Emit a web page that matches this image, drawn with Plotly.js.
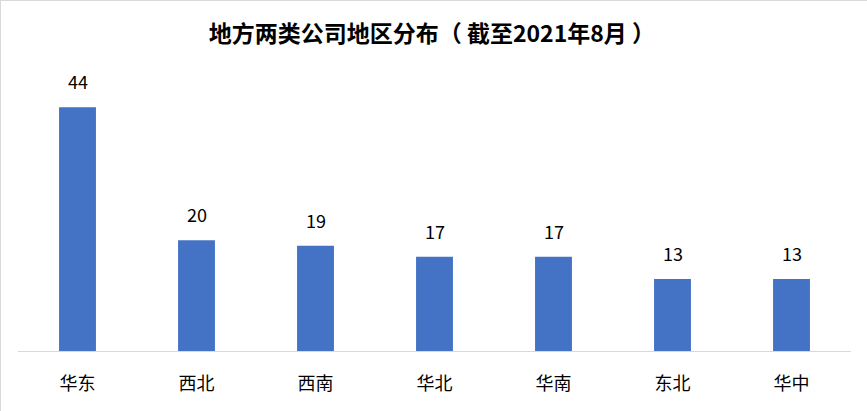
<!DOCTYPE html>
<html>
<head>
<meta charset="utf-8">
<script src="https://cdn.plot.ly/plotly-3.0.1.min.js"></script>
<style>
  html, body { margin: 0; padding: 0; background: #fff; }
  #chart { width: 867px; height: 411px; box-sizing: border-box; border: 1px solid #d9d9d9; }
</style>
</head>
<body>
<div id="chart"></div>
<script>
var regions = ['华东', '西北', '西南', '华北', '华南', '东北', '华中'];
var companyCounts = [44, 20, 19, 17, 17, 13, 13];

var cjkFont = '"Noto Sans CJK SC", "Microsoft YaHei", sans-serif';

var trace = {
  type: 'bar',
  x: regions,
  y: companyCounts,
  marker: { color: '#4472C4' },
  hoverinfo: 'x+y'
};

// value labels sit a bit higher than plotly's own outside text
var valueLabels = regions.map(function (r, i) {
  return {
    x: r,
    y: companyCounts[i],
    xref: 'x',
    yref: 'y',
    text: String(companyCounts[i]),
    showarrow: false,
    yanchor: 'bottom',
    yshift: 11,
    font: { family: cjkFont, size: 18, color: '#000' }
  };
});

var layout = {
  width: 867,
  height: 411,
  margin: { l: 17, r: 17, t: 73, b: 61, pad: 0 },
  paper_bgcolor: '#fff',
  plot_bgcolor: '#fff',
  bargap: 0.69,
  showlegend: false,
  font: { family: cjkFont, color: '#000' },
  annotations: valueLabels,
  title: {
    text: '<b>地方两类公司地区分布（ 截至2021年8月 ）</b>',
    font: { family: cjkFont, size: 23, color: '#000' },
    x: 0.497,
    xanchor: 'center',
    y: 0.92,
    yanchor: 'middle'
  },
  xaxis: {
    type: 'category',
    showgrid: false,
    showline: true,
    linecolor: '#d9d9d9',
    linewidth: 1,
    ticks: 'outside',
    ticklen: 16,
    tickcolor: 'rgba(0,0,0,0)',
    tickfont: { family: cjkFont, size: 18, color: '#000' }
  },
  yaxis: {
    range: [0, 50],
    visible: false,
    showgrid: false,
    zeroline: false
  }
};

Plotly.newPlot('chart', [trace], layout, { displayModeBar: false, staticPlot: true });
</script>
</body>
</html>
